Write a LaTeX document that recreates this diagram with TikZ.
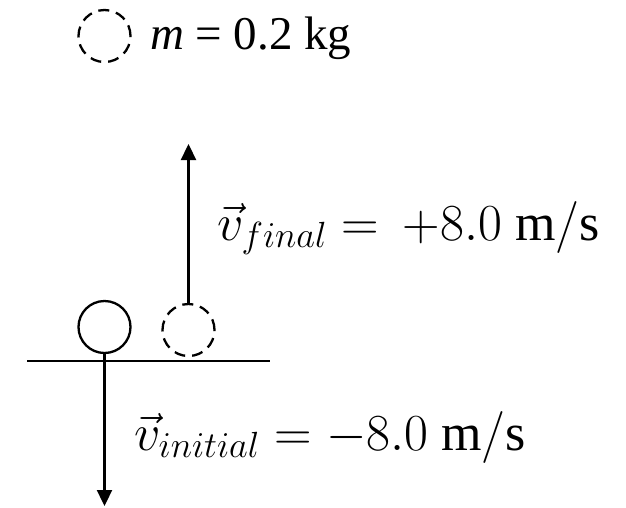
\documentclass[tikz,border=0pt]{standalone}
\usepackage{fix-cm}
\usepackage{fontspec}
\setmainfont{Liberation Serif}
\usetikzlibrary{arrows.meta}
\begin{document}
\begin{tikzpicture}[x=1pt,y=-1pt,
  ballsolid/.style={circle,draw,line width=2.3pt,minimum size=52pt,inner sep=0pt,outer sep=0pt},
  balldash/.style={circle,draw,line width=2.3pt,minimum size=52pt,inner sep=0pt,outer sep=0pt,dash pattern=on 11pt off 7pt},
  vel/.style={line width=2.3pt,-{Triangle[width=15pt,length=16pt]}},
  lab/.style={anchor=base west,inner sep=0pt,outer sep=0pt,font=\fontsize{52}{58}\selectfont}]
\useasboundingbox (0,0) rectangle (626,507);
\node[balldash] (legend) at (104.5,36) {};
\node[anchor=base west,inner sep=0pt,outer sep=0pt] (mlab) at (150,49) {\fontsize{47}{54}\selectfont\textit{m} = 0.2 kg};
\node[ballsolid] (ball) at (104.5,327) {};
\node[balldash] (ballf) at (188.5,330) {};
\coordinate (gl) at (27,361);
\coordinate (gr) at (270,361);
\draw[line width=1.5pt] (gl) -- (gr);
\coordinate (downend) at (104.5,506);
\coordinate (upend) at (188.5,144);
\draw[vel] (ball.south) -- (downend);
\draw[vel] (ballf.north) -- (upend);
\node[lab] (flab) at (217,240) {$\vec{v}_{final} = \hspace{0.18em}{+}8.0\ \mathrm{m/s}$};
\node[lab] (ilab) at (134,450) {$\vec{v}_{initial} = -8.0\ \mathrm{m/s}$};
\end{tikzpicture}
\end{document}
